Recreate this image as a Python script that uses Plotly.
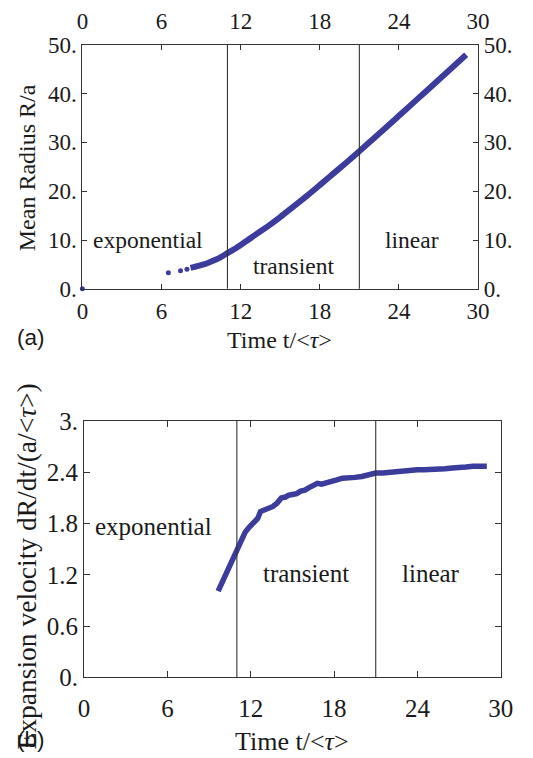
import plotly.graph_objects as go

# ---------------- data ----------------
# panel (a): mean radius vs time
t_sparse = [0.0, 6.52, 7.44, 7.93]
r_sparse = [0.0, 3.3, 3.7, 4.0]
t_radius = [8.2, 8.5, 8.8, 9.2, 9.6, 10.0, 10.5, 11.0, 11.5, 12.0, 12.5, 13.0, 13.5, 14.0,
            15.0, 16.0, 17.0, 18.0, 19.0, 20.0, 21.0, 22.0, 23.0, 24.0, 25.0, 26.0,
            27.0, 28.0, 29.1]
r_radius = [4.3, 4.5, 4.7, 5.0, 5.4, 5.85, 6.5, 7.3, 8.1, 9.0, 9.9, 10.85, 11.8, 12.7,
            14.7, 16.85, 19.0, 21.25, 23.55, 25.85, 28.2, 30.6, 33.0, 35.45, 37.9, 40.35,
            42.8, 45.25, 47.95]

# panel (b): expansion velocity vs time
t_vel = [9.65, 9.9, 10.2, 10.5, 10.8, 11.0, 11.3, 11.6, 11.9, 12.2, 12.5, 12.7, 13.0,
         13.3, 13.6, 13.9, 14.2, 14.5, 14.7, 15.0, 15.3, 15.6, 15.9, 16.2, 16.5, 16.8,
         17.1, 17.4, 17.8, 18.2, 18.6, 19.0, 19.5, 20.0, 20.5, 21.0, 21.5, 22.0, 22.5,
         23.0, 23.5, 24.0, 24.5, 25.0, 25.5, 26.0, 26.5, 27.0, 27.5, 28.0, 28.5, 29.0]
v_vel = [1.01, 1.10, 1.22, 1.33, 1.45, 1.52, 1.60, 1.70, 1.76, 1.80, 1.86, 1.94, 1.96,
         1.97, 2.00, 2.04, 2.10, 2.11, 2.13, 2.14, 2.15, 2.18, 2.19, 2.22, 2.24, 2.27,
         2.26, 2.27, 2.29, 2.31, 2.33, 2.33, 2.34, 2.35, 2.37, 2.39, 2.39, 2.40, 2.41,
         2.41, 2.42, 2.43, 2.43, 2.43, 2.44, 2.44, 2.45, 2.45, 2.46, 2.47, 2.47, 2.47]

# phase boundaries and labels
boundaries = [11, 21]
phase_names = ["exponential", "transient", "linear"]
phase_t = [5.0, 16.0, 25.0]
phase_r = [10.0, 4.7, 10.0]
phase_v = [1.76, 1.21, 1.21]

# ticks
x_ticks = [0, 6, 12, 18, 24, 30]
x_ticktext = ["0", "6", "12", "18", "24", "30"]
r_ticks = [0, 10, 20, 30, 40, 50]
r_ticktext = ["0.", "10.", "20.", "30.", "40.", "50."]
v_ticks = [0, 0.6, 1.2, 1.8, 2.4, 3.0]
v_ticktext = ["0.", "0.6", "1.2", "1.8", "2.4", "3."]

# ---------------- style ----------------
BLUE = "#3c3c9c"
SERIF = "'Liberation Serif', 'Times New Roman', Times, serif"
SANS = "'Liberation Sans', Arial, sans-serif"
W, H = 533, 758

fig = go.Figure()

# panel (a)
fig.add_trace(go.Scatter(x=t_radius, y=r_radius, mode="lines",
                         line=dict(color=BLUE, width=6, shape="spline"), xaxis="x", yaxis="y",
                         showlegend=False, hoverinfo="skip"))
fig.add_trace(go.Scatter(x=t_sparse, y=r_sparse, mode="markers",
                         marker=dict(color=BLUE, size=5), xaxis="x", yaxis="y",
                         cliponaxis=False, showlegend=False, hoverinfo="skip"))
# dummy traces for the opposite-side labelled axes of panel (a)
fig.add_trace(go.Scatter(x=[None], y=[None], xaxis="x3", yaxis="y",
                         showlegend=False, hoverinfo="skip"))
fig.add_trace(go.Scatter(x=[None], y=[None], xaxis="x", yaxis="y3",
                         showlegend=False, hoverinfo="skip"))

# panel (b)
fig.add_trace(go.Scatter(x=t_vel, y=v_vel, mode="lines",
                         line=dict(color=BLUE, width=5.5), xaxis="x2", yaxis="y2",
                         showlegend=False, hoverinfo="skip"))

# boundaries
for b in boundaries:
    for xr, yr in (("x", "y domain"), ("x2", "y2 domain")):
        fig.add_shape(type="line", xref=xr, yref=yr, x0=b, x1=b, y0=0, y1=1,
                      line=dict(color="#333333", width=1.1))

# phase labels
for name, tt, rr, vv in zip(phase_names, phase_t, phase_r, phase_v):
    fig.add_annotation(x=tt, y=rr, xref="x", yref="y", text=name, showarrow=False,
                       font=dict(family=SERIF, size=23.5, color="#1a1a1a"))
    fig.add_annotation(x=tt, y=vv, xref="x2", yref="y2", text=name, showarrow=False,
                       font=dict(family=SERIF, size=25, color="#1a1a1a"))

# axis titles and panel letters
def pa(px_x, px_y):
    return px_x / W, 1 - px_y / H

for txt, (px, py), ang, fam, size in [
    ("Mean Radius R/a", (21.7, 160), -90, SERIF, 24),
    ("Time t/&lt;<i>τ</i>&gt;", (284, 339.5), 0, SERIF, 24),
    ("(a)", (25.5, 336), 0, SANS, 22.5),
    ("Expansion velocity dR/dt/(a/&lt;<i>τ</i>&gt;)", (21.7, 574), -90, SERIF, 27.5),
    ("Time t/&lt;<i>τ</i>&gt;", (296.6, 755), 0, SERIF, 26),
    ("(b)", (25.5, 753), 0, SANS, 22.5),
]:
    x, y = pa(px, py)
    fig.add_annotation(x=x, y=y, xref="paper", yref="paper", text=txt, showarrow=False,
                       textangle=ang, xanchor="center", yanchor="middle",
                       font=dict(family=fam, size=size, color="#1a1a1a"))

axis_common = dict(showgrid=False, zeroline=False, showline=True, linecolor="#333333",
                   linewidth=1, ticks="inside", tickcolor="#333333", tickwidth=1)

xa_dom = [79.2 / W, 489.5 / W]
ya_dom = [1 - 286 / H, 1 - 33 / H]
xb_dom = [81 / W, 513 / W]
yb_dom = [1 - 689 / H, 1 - 423 / H]

tfont_a = dict(family=SERIF, size=23, color="#1a1a1a")
tfont_b = dict(family=SERIF, size=25, color="#1a1a1a")

fig.update_layout(
    width=W, height=H, autosize=False,
    margin=dict(l=0, r=0, t=0, b=0),
    paper_bgcolor="white", plot_bgcolor="white",
    font=dict(family=SERIF),
    xaxis=dict(domain=xa_dom, anchor="y", range=[0, 30], tickvals=x_ticks,
               ticktext=x_ticktext, ticklen=5, tickfont=tfont_a,
               ticklabelstandoff=2, **axis_common),
    xaxis3=dict(domain=xa_dom, anchor="y", overlaying="x", side="top", range=[0, 30],
                tickvals=x_ticks, ticktext=x_ticktext, ticklen=5, tickfont=tfont_a,
                ticklabelstandoff=6, **axis_common),
    yaxis=dict(domain=ya_dom, anchor="x", range=[0, 50], tickvals=r_ticks,
               ticktext=r_ticktext, ticklen=5, tickfont=tfont_a, **axis_common),
    yaxis3=dict(domain=ya_dom, anchor="x", overlaying="y", side="right", range=[0, 50],
                tickvals=r_ticks, ticktext=r_ticktext, ticklen=5, tickfont=tfont_a,
                **axis_common),
    xaxis2=dict(domain=xb_dom, anchor="y2", range=[0, 30], tickvals=x_ticks,
                ticktext=x_ticktext, ticklen=6, tickfont=tfont_b, mirror="ticks",
                ticklabelstandoff=9, **axis_common),
    yaxis2=dict(domain=yb_dom, anchor="x2", range=[0, 3], tickvals=v_ticks,
                ticktext=v_ticktext, ticklen=6, tickfont=tfont_b, mirror="ticks",
                **axis_common),
)

fig.write_html("out.html")
